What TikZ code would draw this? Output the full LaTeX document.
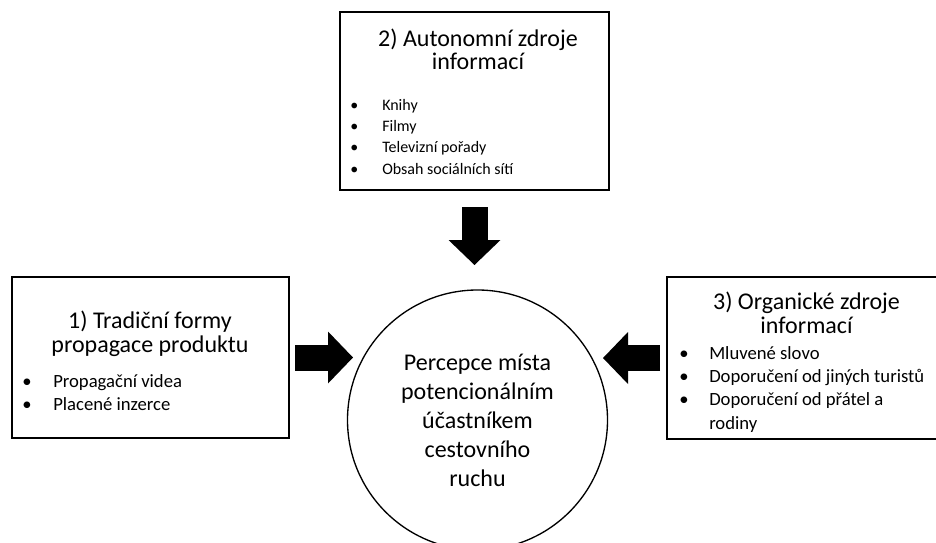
\documentclass[tikz,border=0pt]{standalone}
\usepackage{fontspec}
\setmainfont{Carlito}
\usetikzlibrary{arrows.meta}

\tikzset{
  box/.style={draw, line width=1.2pt, rectangle, inner sep=0pt, outer sep=0pt},
  ring/.style={draw, line width=1pt, circle, inner sep=0pt, outer sep=0pt},
  heading/.style={align=center, anchor=base, inner sep=0pt},
  items/.style={anchor=base west, inner sep=0pt},
  fatarrow/.style={line width=19.5pt,
    -{Triangle[length=18.75pt, width=39pt, line width=0pt]}},
}

\begin{document}
\begin{tikzpicture}[x=0.75pt, y=-0.75pt]
  \clip (0,0) rectangle (936,543);

  % boxes and the circle
  \node[box, minimum width=201.75pt, minimum height=133.5pt] (top) at (474.5,101) {};
  \node[box, minimum width=207.75pt, minimum height=120.75pt] (left) at (150.5,357.5) {};
  \node[box, minimum width=208.5pt, minimum height=121.5pt] (right) at (806,358) {};
  \node[ring, minimum size=195pt] (circ) at (477.5,420) {};

  % texts (headings sit on the baseline of their last line)
  \node[heading, font=\fontsize{18}{17}\selectfont] (toptitle) at (478,69)
    {2) Autonomní zdroje\\informací};
  \node[items, font=\fontsize{12}{16}\selectfont] (toplist) at (350,110)
    {\begin{tabular}[t]{@{}p{24pt}@{}l@{}}
      \textbullet & Knihy\\
      \textbullet & Filmy\\
      \textbullet & Televizní pořady\\
      \textbullet & Obsah sociálních sítí
    \end{tabular}};

  \node[heading, font=\fontsize{18}{18}\selectfont] (lefttitle) at (150,352)
    {1) Tradiční formy\\propagace produktu};
  \node[items, font=\fontsize{14}{17.25}\selectfont] (leftlist) at (22,387)
    {\begin{tabular}[t]{@{}p{23.25pt}@{}l@{}}
      \textbullet & Propagační videa\\
      \textbullet & Placené inzerce
    \end{tabular}};

  \node[heading, font=\fontsize{18}{18}\selectfont] (righttitle) at (806.5,333)
    {3) Organické zdroje\\informací};
  \node[items, font=\fontsize{14}{17.5}\selectfont] (rightlist) at (679,359)
    {\begin{tabular}[t]{@{}p{22.5pt}@{}l@{}}
      \textbullet & Mluvené slovo\\
      \textbullet & Doporučení od jiných turistů\\
      \textbullet & Doporučení od přátel a\\
                  & rodiny
    \end{tabular}};

  \node[heading, font=\fontsize{18}{21.75}\selectfont] (circtext) at (477.5,486)
    {Percepce místa\\potencionálním\\účastníkem\\cestovního\\ruchu};

  % arrow tips
  \coordinate (tipT) at (474.5,265);
  \coordinate (tipL) at (353,357.5);
  \coordinate (tipR) at (603,358);

  % arrows
  \draw[fatarrow, shorten <=12.75pt] (top.south) -- (tipT);
  \draw[fatarrow, shorten <=4.5pt] (left.east) -- (tipL);
  \draw[fatarrow, shorten <=5.25pt] (right.west) -- (tipR);
\end{tikzpicture}
\end{document}
